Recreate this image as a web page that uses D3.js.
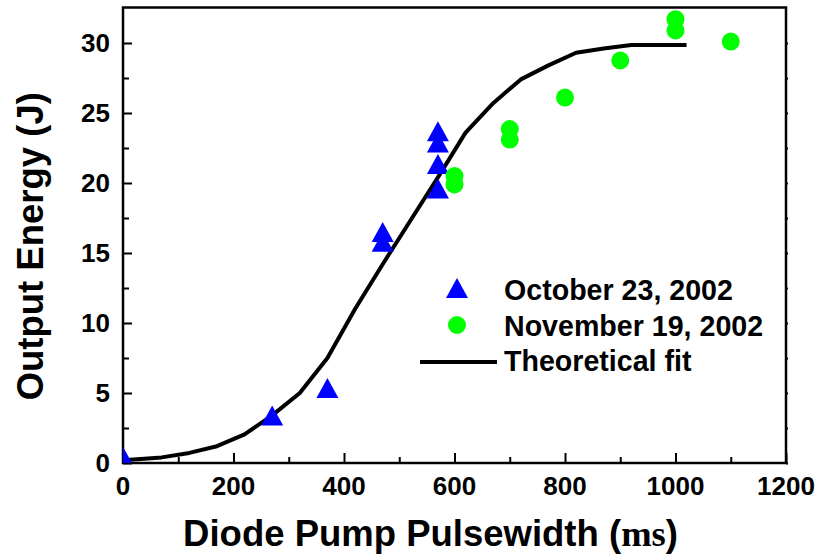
<!DOCTYPE html>
<html lang="en">

<head>
  <style>
    body {
      margin: 0;
      background: #fff;
    }
    text {
      font-family: "Liberation Sans", Arial, sans-serif;
      font-weight: bold;
      fill: #000;
    }
    .tick-label {
      font-size: 26px;
    }
    .axis-title {
      font-size: 36.5px;
    }
    .legend-label {
      font-size: 28.6px;
    }
  </style>
  <script src="https://d3js.org/d3.v7.min.js"></script>
</head>
<body>
  <script>
    // October 23, 2002 (triangles)
    const octX = [0, 270, 370, 470, 470, 570, 570, 570, 570];
    const octY = [0.45, 3.4, 5.35, 15.8, 16.5, 19.6, 21.35, 22.9, 23.7];

    // November 19, 2002 (circles)
    const novX = [600, 600, 700, 700, 800, 900, 1000, 1000, 1100];
    const novY = [19.9, 20.5, 23.1, 23.85, 26.1, 28.75, 30.9, 31.7, 30.1];

    // theoretical fit
    const fitX = [0, 70, 120, 170, 220, 270, 320, 370, 420, 470, 520, 570, 620, 670, 720, 770, 820, 870, 920, 970, 1020];
    const fitY = [0.2, 0.4, 0.72, 1.2, 2.05, 3.4, 5.0, 7.5, 11.0, 14.2, 17.3, 20.4, 23.6, 25.7, 27.4, 28.4, 29.3, 29.6, 29.85, 29.85, 29.85];

    const xTicks = [0, 200, 400, 600, 800, 1000, 1200];
    const yTicks = [0, 5, 10, 15, 20, 25, 30];
    const legendLabels = ["October 23, 2002", "November 19, 2002", "Theoretical fit"];

    const margin = { top: 7.5, right: 31, bottom: 93, left: 123 };
    const width = 817 - margin.left - margin.right;
    const height = 556 - margin.top - margin.bottom;

    const svg = d3.select("body")
      .append("svg")
      .attr("width", 817)
      .attr("height", 556)
      .append("g")
      .attr("transform", `translate(${margin.left},${margin.top})`);

    const x = d3.scaleLinear()
      .domain([0, 1200])
      .range([0, width]);

    const y = d3.scaleLinear()
      .domain([0, height / 14])
      .range([height, 0]);

    svg.append("clipPath")
      .attr("id", "plot-clip")
      .append("rect")
      .attr("width", width)
      .attr("height", height);

    // axes: ticks point inward, minor ticks between
    const bottomMinor = svg.append("g")
      .attr("transform", `translate(0,${height})`)
      .call(d3.axisTop(x).tickValues(d3.range(100, 1200, 200)).tickSize(6).tickFormat(""));
    const bottomMajor = svg.append("g")
      .attr("transform", `translate(0,${height})`)
      .call(d3.axisTop(x).tickValues(xTicks).tickSize(10).tickFormat(""));

    const leftMinor = svg.append("g")
      .call(d3.axisRight(y).tickValues(d3.range(2.5, 32.5, 5)).tickSize(6).tickFormat(""));
    const leftMajor = svg.append("g")
      .call(d3.axisRight(y).tickValues(yTicks).tickSize(9).tickFormat(""));

    const rightTicks = svg.append("g")
      .attr("transform", `translate(${width},0)`)
      .call(d3.axisRight(y).tickValues(d3.range(0, 32.5, 2.5)).tickSize(2).tickFormat(""));

    [bottomMinor, bottomMajor, leftMinor, leftMajor, rightTicks].forEach(g => {
      g.select(".domain").remove();
      g.selectAll("line").attr("stroke", "#000").attr("stroke-width", 2);
    });

    svg.append("rect")
      .attr("width", width)
      .attr("height", height)
      .attr("fill", "none")
      .attr("stroke", "#000")
      .attr("stroke-width", 2.5);

    svg.append("g")
      .selectAll("text")
      .data(xTicks)
      .join("text")
      .attr("class", "tick-label")
      .attr("x", d => x(d))
      .attr("y", height + 32)
      .attr("text-anchor", "middle")
      .text(d => d);

    svg.append("g")
      .selectAll("text")
      .data(yTicks)
      .join("text")
      .attr("class", "tick-label")
      .attr("x", -13)
      .attr("y", d => y(d))
      .attr("dy", "0.36em")
      .attr("text-anchor", "end")
      .text(d => d);

    // fit line
    const line = d3.line()
      .x(d => x(d[0]))
      .y(d => y(d[1]));

    const plot = svg.append("g").attr("clip-path", "url(#plot-clip)");

    plot.append("path")
      .datum(d3.zip(fitX, fitY))
      .attr("fill", "none")
      .attr("stroke", "#000")
      .attr("stroke-width", 4)
      .attr("stroke-linejoin", "round")
      .attr("d", line);

    const tri = "M0,-10L11,10L-11,10Z";

    plot.append("g")
      .selectAll("path")
      .data(d3.zip(octX, octY))
      .join("path")
      .attr("d", tri)
      .attr("fill", "#0000ff")
      .attr("transform", d => `translate(${x(d[0])},${y(d[1])})`);

    plot.append("g")
      .selectAll("circle")
      .data(d3.zip(novX, novY))
      .join("circle")
      .attr("cx", d => x(d[0]))
      .attr("cy", d => y(d[1]))
      .attr("r", 9)
      .attr("fill", "#00ff00");

    // legend
    const legend = svg.append("g")
      .attr("transform", `translate(${457 - margin.left},${288 - margin.top})`);

    legend.append("path")
      .attr("d", tri)
      .attr("fill", "#0000ff");
    legend.append("circle")
      .attr("cy", 37)
      .attr("r", 9)
      .attr("fill", "#00ff00");
    legend.append("line")
      .attr("x1", -37)
      .attr("x2", 40)
      .attr("y1", 74)
      .attr("y2", 74)
      .attr("stroke", "#000")
      .attr("stroke-width", 4);

    legend.selectAll("text")
      .data(legendLabels)
      .join("text")
      .attr("class", "legend-label")
      .attr("x", 47)
      .attr("y", (d, i) => 12 + i * 35.5)
      .text(d => d);

    // axis titles
    const xTitle = svg.append("text")
      .attr("class", "axis-title")
      .attr("x", width / 2 - 24)
      .attr("y", height + 83)
      .attr("text-anchor", "middle");
    xTitle.append("tspan").text("Diode Pump Pulsewidth (");
    xTitle.append("tspan")
      .style("font-family", "'Liberation Serif', 'Times New Roman', serif")
      .text("ms");
    xTitle.append("tspan").text(")");

    svg.append("text")
      .attr("class", "axis-title")
      .attr("x", -(height / 2 + 11))
      .attr("y", -80)
      .attr("text-anchor", "middle")
      .attr("transform", "rotate(-90)")
      .text("Output Energy (J)");
  </script>
</body>
</html>
